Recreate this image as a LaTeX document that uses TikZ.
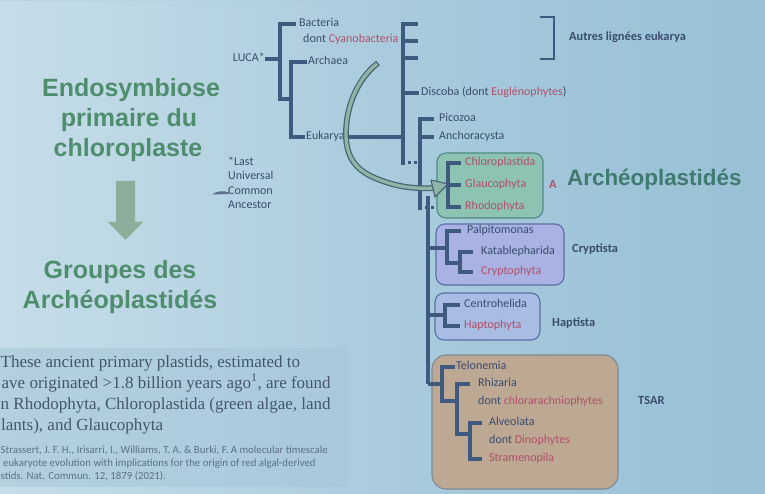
\documentclass[tikz,border=0pt]{standalone}
\usepackage{fontspec}
\setmainfont{Carlito}
\newfontfamily\headf{Liberation Sans}
\newfontfamily\serf{Liberation Serif}
\usetikzlibrary{fadings}
\definecolor{bgL}{HTML}{BAD6E4}
\definecolor{bgR}{HTML}{98C0D6}
\definecolor{linec}{HTML}{3E5A7E}
\definecolor{txt}{HTML}{3A4C6E}
\definecolor{redt}{HTML}{B0506A}
\definecolor{grn}{HTML}{4E8E6E}
\definecolor{grnB}{HTML}{3F7B6F}
\definecolor{arrowc}{HTML}{8EAD9B}
\definecolor{aFill}{HTML}{8CC3B2}
\definecolor{aDraw}{HTML}{4F8A86}
\definecolor{cFill}{HTML}{A9B2E2}
\definecolor{cDraw}{HTML}{5C6EA6}
\definecolor{hFill}{HTML}{A8BCE4}
\definecolor{tFill}{HTML}{BCA893}
\definecolor{tDraw}{HTML}{7D8A94}
\definecolor{qFill}{HTML}{A6C6D9}
\definecolor{qTxt}{HTML}{44566A}
\definecolor{refTxt}{HTML}{5C7084}
\definecolor{cOut}{HTML}{4A6274}
\definecolor{cIn}{HTML}{8FB5A6}
\newcommand\rd[1]{\textcolor{redt}{#1}}
\newcommand\treedots[1]{%
  \fill[linec] ([xshift=5pt,yshift=1.5pt]#1) rectangle ++(3,3);
  \fill[linec] ([xshift=10.5pt,yshift=1.5pt]#1) rectangle ++(3,3);}
\begin{document}
\begin{tikzpicture}[x=1pt,y=-1pt,
  lab/.style={anchor=west, inner sep=0pt, text=txt, font=\fontsize{12}{13}\selectfont, text height=8.4pt, text depth=2.6pt},
  grp/.style={anchor=west, inner sep=0pt, text=txt, font=\fontsize{12.4}{13}\selectfont\bfseries, text height=8.6pt, text depth=2.7pt},
  br/.style={draw=linec, line width=3.1pt, line cap=butt, line join=miter},
  title/.style={anchor=base, inner sep=0pt, text=grn, font=\headf\bfseries\fontsize{25}{28}\selectfont},
  quote/.style={anchor=west, inner sep=0pt, text=qTxt, font=\serf\fontsize{17}{19}\selectfont, text height=12pt, text depth=3.8pt},
  refl/.style={anchor=west, inner sep=0pt, text=refTxt, font=\fontsize{10.8}{12}\selectfont, text height=7.5pt, text depth=2.3pt},
  abox/.style={draw=aDraw, fill=aFill, line width=1.1pt, rounded corners=9pt},
  cbox/.style={draw=cDraw, fill=cFill, line width=1.1pt, rounded corners=9pt},
  hbox/.style={draw=cDraw, fill=hFill, line width=1.1pt, rounded corners=9pt},
  tbox/.style={draw=tDraw, fill=tFill, line width=1.1pt, rounded corners=14pt}]
\useasboundingbox (0,0) rectangle (765,494);
\clip (0,0) rectangle (765,494);
% background
\shade[left color=bgL, right color=bgR] (0,0) rectangle (765,494);
\fill[white, opacity=0.18, path fading=east] (0,0) rectangle (420,494);
% quote box
\fill[qFill, opacity=0.55] (0,348) rectangle (348,487);

% left titles
\node[title] (t1) at (131,97) {Endosymbiose};
\node[title] (t2) at (129,127) {primaire du};
\node[title] (t3) at (128,157) {chloroplaste};
\node[title] (t4) at (120,278) {Groupes des};
\node[title] (t5) at (120,308) {Archéoplastidés};
\fill[arrowc] (116,181) -- (135,181) -- (135,222) -- (143,222) -- (125.5,240) -- (108,222) -- (116,222) -- cycle;

% footnote LUCA
\node[lab, align=left, font=\fontsize{12}{14.5}\selectfont, text height=, text depth=] (lucafn) at (228,183) {*Last\\Universal\\Common\\Ancestor};
\fill[txt!80] (212,194.5) .. controls (217,190.5) and (224,190.5) .. (229,192.5) -- (229,194) -- cycle;

% quote text (as printed, cut at the left edge of the photo)
\node[quote] (q1) at (0.5,363) {These ancient primary plastids, estimated to};
\node[quote] (q2) at (1.5,384) {ave originated >1.8 billion years ago\textsuperscript{1}, are found};
\node[quote] (q3) at (0.5,405) {n Rhodophyta, Chloroplastida (green algae, land};
\node[quote] (q4) at (1,426) {lants), and Glaucophyta};
\node[refl] (r1) at (0.5,451) {Strassert, J. F. H., Irisarri, I., Williams, T. A. \& Burki, F. A molecular timescale};
\node[refl] (r2) at (3,464) {eukaryote evolution with implications for the origin of red algal-derived};
\node[refl] (r3) at (0.5,477) {stids. Nat. Commun. 12, 1879 (2021).};

% boxes
\draw[abox] (437,153) rectangle (543,218);
\draw[cbox] (436,224) rectangle (564,285);
\draw[hbox] (435,293) rectangle (540,340);
\draw[tbox] (432,355) rectangle (618,489);

% labels
\node[lab] (bac) at (299,24) {Bacteria};
\node[lab] (cya) at (303,40) {dont \rd{Cyanobacteria}};
\node[lab, anchor=east] (luca) at (265,59) {LUCA*};
\node[lab] (arc) at (308,62) {Archaea};
\node[lab] (euk) at (306,137) {Eukarya};
\node[lab] (dis) at (421,93) {Discoba (dont \rd{Euglénophytes})};
\node[lab] (pic) at (439,119) {Picozoa};
\node[lab] (anc) at (439,137) {Anchoracysta};
\node[lab, text=redt] (chl) at (465,163) {Chloroplastida};
\node[lab, text=redt] (gla) at (465,185) {Glaucophyta};
\node[lab, text=redt] (rho) at (465,207) {Rhodophyta};
\node[lab] (pal) at (467,231) {Palpitomonas};
\node[lab] (kat) at (481,252) {Katablepharida};
\node[lab, text=redt] (cry) at (481,272) {Cryptophyta};
\node[lab] (cen) at (464,305) {Centrohelida};
\node[lab, text=redt] (hap) at (464,326) {Haptophyta};
\node[lab] (tel) at (456,367) {Telonemia};
\node[lab] (rhi) at (478,384) {Rhizaria};
\node[lab] (rhi2) at (478,402) {dont \rd{chlorarachniophytes}};
\node[lab] (alv) at (489,423) {Alveolata};
\node[lab] (alv2) at (489,441) {dont \rd{Dinophytes}};
\node[lab, text=redt] (str) at (489,459) {Stramenopila};

% group labels
\node[grp] (autres) at (569,38) {Autres lignées eukarya};
\node[grp, text=redt] (aa) at (549,186) {A};
\node[anchor=base west, inner sep=0pt, text=grnB, font=\headf\bfseries\fontsize{22.4}{24}\selectfont] (arch) at (567,186) {Archéoplastidés};
\node[grp] (crypt) at (572,250) {Cryptista};
\node[grp] (hapt) at (552,324) {Haptista};
\node[grp] (tsar) at (638,402) {TSAR};

% bracket for other lineages
\coordinate (bk1) at (540,17);
\coordinate (bk2) at (540,59);
\draw[linec, line width=1.1pt] (bk1) -- ++(14,0) |- (bk2);

% tree: root
\coordinate (j1) at (280,99);
\coordinate (j2) at (291,99);
\draw[br] ([xshift=-3pt]bac.west) -| (j1) -- (j2);
\draw[br] (luca.east) -- (luca.east -| j1);
\draw[br] ([xshift=-1pt]arc.west) -| (j2) |- ([xshift=-1pt]euk.west);
% eukarya backbone
\coordinate (j3) at (403,163);
\coordinate (e1) at (418,24);
\coordinate (e2) at (418,41);
\coordinate (e3) at (418,58);
\draw[br] ([xshift=1pt]euk.east) -- (euk.east -| j3);
\draw[br] (e1) -| (j3) -- ++(2,0);
\draw[br] (e2) -- (e2 -| j3);
\draw[br] (e3) -- (e3 -| j3);
\draw[br] ([xshift=-2pt]dis.west) -- (dis.west -| j3);
\treedots{j3}
% picozoa clade
\coordinate (j4) at (420,208);
\draw[br] ([xshift=-5pt]pic.west) -| (j4) -- ++(2,0);
\draw[br] ([xshift=-5pt]anc.west) -- (anc.west -| j4);
\treedots{j4}

% curved arrow
\def\arcpath{(378,63) .. controls (356,80) and (345,110) .. (346,137) .. controls (347,160) and (358,172) .. (380,180) .. controls (398,187) and (415,189) .. (434,188)}
\draw[cOut, line width=5.8pt, line cap=butt] \arcpath;
\draw[cIn, line width=3.3pt, line cap=butt, shorten <=1.2pt] \arcpath;
\filldraw[fill=cIn, draw=cOut, line width=1.1pt, line join=round] (431,180) -- (448,184) -- (435,197) -- cycle;

% lower backbone
\coordinate (m0) at (428,196);
\coordinate (m1) at (428,384);
\draw[br] (m0) -- (m1);
% archaeplastida
\coordinate (a1) at (448,185);
\draw[br] ([xshift=-4pt]chl.west) -| (a1) |- ([xshift=-4pt]rho.west);
\draw[br] (a1) -- ([xshift=-4pt]gla.west);
% cryptista
\coordinate (cj) at (447,248);
\coordinate (c1) at (447,263);
\coordinate (c2) at (460,263);
\draw[br] (cj -| m0) -- (cj);
\draw[br] ([xshift=-6pt]pal.west) -| (c1) -- (c2);
\draw[br] ([xshift=-8pt]kat.west) -| (c2) |- ([xshift=-8pt]cry.west);
% haptista
\coordinate (h1) at (445,315);
\draw[br] (h1 -| m0) -- (h1);
\draw[br] ([xshift=-4pt]cen.west) -| (h1) |- ([xshift=-4pt]hap.west);
% TSAR
\coordinate (s1) at (442,401);
\coordinate (s2) at (457,401);
\coordinate (s3) at (457,434);
\coordinate (s4) at (470,434);
\draw[br] (m1) -- (m1 -| s1);
\draw[br] ([xshift=-1pt]tel.west) -| (s1) -- (s2);
\draw[br] ([xshift=-8pt]rhi.west) -| (s3) -- (s4);
\draw[br] ([xshift=-7pt]alv.west) -| (s4) |- ([xshift=-7pt]str.west);
\end{tikzpicture}
\end{document}
